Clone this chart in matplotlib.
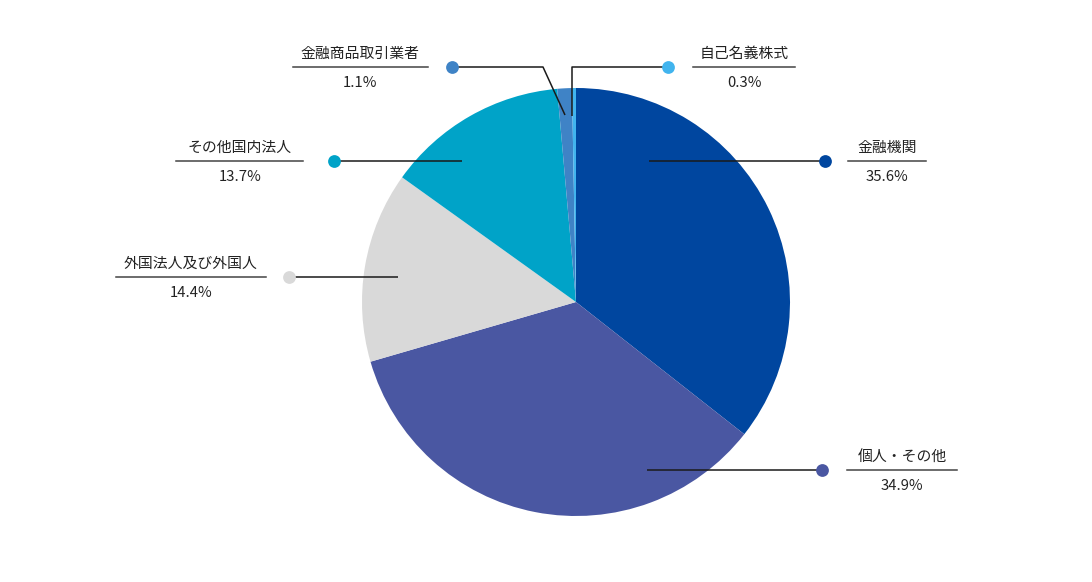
import matplotlib
matplotlib.use("Agg")
import matplotlib.pyplot as plt
import numpy as np

plt.rcParams['font.family'] = ['Noto Sans CJK JP', 'DejaVu Sans']

categories = ['金融機関', '個人・その他', '外国法人及び外国人', 'その他国内法人', '金融商品取引業者', '自己名義株式']
values = [35.6, 34.9, 14.4, 13.7, 1.1, 0.3]
value_labels = ['35.6%', '34.9%', '14.4%', '13.7%', '1.1%', '0.3%']
colors = ['#00469f', '#4a57a2', '#d9d9d9', '#00a3c8', '#3f83c6', '#41b4ee']

W, H = 1092, 582
fig = plt.figure(figsize=(W / 100, H / 100), dpi=100)
ax = fig.add_axes([0, 0, 1, 1])
ax.set_xlim(0, W)
ax.set_ylim(0, H)
ax.set_aspect('equal')
ax.axis('off')

def Y(y):
    return H - y

cx, cy, R = 576, 302, 214
ax.pie(values, colors=colors, startangle=90, counterclock=False,
       center=(cx, Y(cy)), radius=R, frame=True,
       wedgeprops=dict(linewidth=0))
ax.set_xlim(0, W)
ax.set_ylim(0, H)
ax.axis('off')

# layout: (text center x, underline y, underline x0, x1, dot x, leader path points)
layout = [
    dict(tx=887, ly=161, ux=(848, 926), dot=825, path=[(825, 161), (649, 161)]),
    dict(tx=902, ly=470, ux=(847, 957), dot=822, path=[(822, 470), (647, 470)]),
    dict(tx=191, ly=277, ux=(116, 266), dot=289, path=[(289, 277), (398, 277)]),
    dict(tx=240, ly=161, ux=(176, 303), dot=334, path=[(334, 161), (462, 161)]),
    dict(tx=360, ly=67, ux=(293, 428), dot=452, path=[(452, 67), (543, 67), (565, 115)]),
    dict(tx=744, ly=67, ux=(693, 795), dot=668, path=[(668, 67), (572, 67), (572, 116)]),
]

for cat, lab, col, L in zip(categories, value_labels, colors, layout):
    xs = [p[0] for p in L['path']]
    ys = [Y(p[1]) for p in L['path']]
    ax.plot(xs, ys, color='#1a1a1a', lw=1.1, solid_capstyle='butt', zorder=3)
    ax.plot([L['dot']], [Y(L['ly'])], 'o', color=col, markersize=9.2,
            markeredgewidth=0, zorder=4)
    ax.plot(L['ux'], [Y(L['ly'])] * 2, color='#444444', lw=1.1, zorder=3)
    ax.text(L['tx'], Y(L['ly'] - 13), cat, ha='center', va='center',
            fontsize=10.7, color='#222222')
    ax.text(L['tx'], Y(L['ly'] + 16), lab, ha='center', va='center',
            fontsize=10.7, color='#222222')

fig.savefig('out.png', dpi=100, facecolor='white')
